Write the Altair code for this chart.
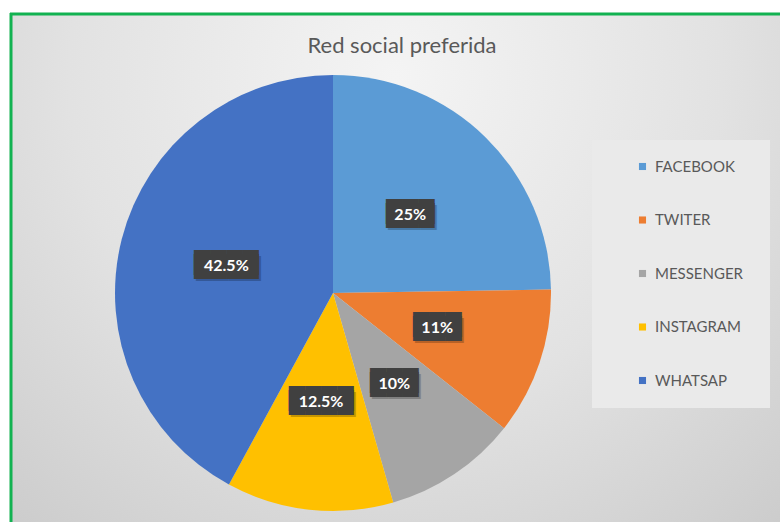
import altair as alt
import pandas as pd

categories = ["FACEBOOK", "TWITER", "MESSENGER", "INSTAGRAM", "WHATSAP"]
shares = [25, 11, 10, 12.5, 42.5]
label_texts = ["25%", "11%", "10%", "12.5%", "42.5%"]
colors = ["#5B9BD5", "#ED7D31", "#A5A5A5", "#FFC000", "#4472C4"]
title_text = "Red social preferida"

df = pd.DataFrame({
    "cat": categories,
    "share": shares,
    "label": label_texts,
    "idx": list(range(len(categories))),
})

CX, CY = 333, 293
FONT = "Lato"
LR = 110  # label radius
one = alt.Data(values=[{"a": 1}])

bg = alt.Chart(one).mark_rect(
    fill=alt.RadialGradient(
        gradient="radial", x1=0.5, y1=0.25, x2=0.5, y2=0.25, r1=0, r2=0.85,
        stops=[alt.GradientStop(color="#f4f4f4", offset=0),
               alt.GradientStop(color="#e2e2e2", offset=0.5),
               alt.GradientStop(color="#c7c7c7", offset=1)])
).encode(x=alt.value(11), x2=alt.value(780), y=alt.value(14), y2=alt.value(522))

legend_bg = alt.Chart(one).mark_rect(fill="#eaeaea").encode(
    x=alt.value(592), x2=alt.value(770), y=alt.value(140), y2=alt.value(408))

border_top = alt.Chart(one).mark_rule(color="#12b251", strokeWidth=3).encode(
    x=alt.value(10), x2=alt.value(780), y=alt.value(14))
border_left = alt.Chart(one).mark_rule(color="#12b251", strokeWidth=3).encode(
    x=alt.value(11), y=alt.value(13), y2=alt.value(522))

title = alt.Chart(one).mark_text(
    text=title_text, font=FONT, fontSize=22, color="#595959", align="center", baseline="middle"
).encode(x=alt.value(402), y=alt.value(46))

base = alt.Chart(df).encode(
    theta=alt.Theta("share:Q", stack=True),
    order=alt.Order("idx:Q", sort="ascending"),
    x=alt.value(CX), y=alt.value(CY),
)

pie = base.mark_arc(outerRadius=218).encode(
    color=alt.Color(
        "cat:N",
        scale=alt.Scale(domain=categories, range=colors),
        sort=categories,
        legend=alt.Legend(
            title=None, orient="none", legendX=635, legendY=159,
            symbolType="square", symbolSize=50, symbolStrokeWidth=0,
            labelFont=FONT, labelFontSize=15, labelColor="#595959",
            rowPadding=37.5, labelOffset=5, padding=0,
        ),
    )
)

box_base = base.transform_calculate(
    box="pad('', floor(length(datum.label) / 2) + 2, '\u2588', 'left')"
)
box_style = dict(radius=LR, font="DejaVu Sans", fontSize=21, align="center", baseline="middle")

shadow = box_base.mark_text(color="#000000", opacity=0.22, dx=2, dy=4, **box_style).encode(text="box:N")
box_top = box_base.mark_text(color="#404040", dy=-2, **box_style).encode(text="box:N")
box_bot = box_base.mark_text(color="#404040", dy=2, **box_style).encode(text="box:N")

labels = base.mark_text(
    radius=LR, font=FONT, fontSize=16, fontWeight="bold", color="white",
    align="center", baseline="middle"
).encode(text="label:N")

chart = alt.layer(
    bg, legend_bg, border_top, border_left, title, pie, shadow, box_top, box_bot, labels
).properties(
    width=780, height=522, padding=0, autosize=alt.AutoSizeParams(type="none"),
    background="white",
).configure_view(stroke=None)

chart.save("out.html", embed_options={"renderer": "svg", "actions": False})
